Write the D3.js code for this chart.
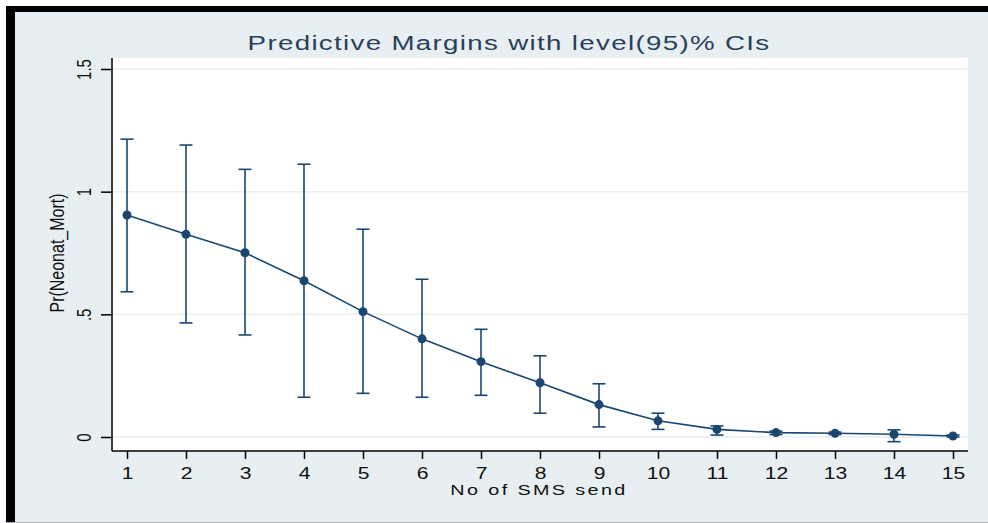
<!DOCTYPE html>
<html>
<head>
<meta charset="utf-8">
<script src="https://cdn.jsdelivr.net/npm/d3@7"></script>
<style>
  html, body { margin: 0; padding: 0; background: #fff; }
  svg { display: block; font-family: "Liberation Sans", Arial, sans-serif; }
</style>
</head>
<body>
<svg width="988" height="523"></svg>
<script>
// data
const smsCount = [1, 2, 3, 4, 5, 6, 7, 8, 9, 10, 11, 12, 13, 14, 15];
const margin = [0.905, 0.826, 0.751, 0.637, 0.511, 0.400, 0.307, 0.221, 0.132, 0.066, 0.031, 0.018, 0.015, 0.011, 0.004];
const ciLow = [0.592, 0.465, 0.416, 0.162, 0.178, 0.162, 0.170, 0.097, 0.041, 0.031, 0.008, 0.010, 0.010, -0.019, 0.000];
const ciHigh = [1.214, 1.190, 1.091, 1.112, 0.847, 0.643, 0.439, 0.331, 0.217, 0.097, 0.045, 0.024, 0.020, 0.029, 0.008];
const yTicks = [0, 0.5, 1, 1.5];
const yTickLabels = ['0', '.5', '1', '1.5'];

const navy = '#1a476f';
const stretch = 1.32; // the source image is widened, so the text is too
const svg = d3.select('svg');

// outer frame: white edge, black bars top/left, blue-grey background
svg.append('rect').attr('width', 988).attr('height', 523).attr('fill', '#fff');
svg.append('rect').attr('x', 6).attr('y', 6).attr('width', 982).attr('height', 516).attr('fill', '#000');
svg.append('rect').attr('x', 15).attr('y', 12).attr('width', 973).attr('height', 510).attr('fill', '#e8eff2');
svg.append('line')
    .attr('x1', 6).attr('x2', 988).attr('y1', 522.5).attr('y2', 522.5)
    .attr('stroke', '#b0b4b8').attr('stroke-width', 1);

const plot = { left: 112, right: 968, top: 58, bottom: 451 };

// plot region
svg.append('rect')
    .attr('x', plot.left).attr('y', plot.top)
    .attr('width', plot.right - plot.left).attr('height', plot.bottom - plot.top)
    .attr('fill', '#fff');

const xScale = d3.scaleLinear().domain([1, 15]).range([127, 953]);
const yScale = d3.scaleLinear().domain([0, 1.5]).range([437, 69]);

// gridlines
svg.append('g')
    .selectAll('line')
    .data(yTicks)
    .enter()
    .append('line')
    .attr('x1', plot.left).attr('x2', plot.right)
    .attr('y1', d => yScale(d)).attr('y2', d => yScale(d))
    .attr('stroke', '#e6eff1')
    .attr('stroke-width', 1.5);

// Y axis
const yAxis = svg.append('g')
    .attr('transform', `translate(${plot.left},0)`)
    .call(d3.axisLeft(yScale).tickValues(yTicks).tickSize(11)
        .tickFormat((d, i) => yTickLabels[i]));
yAxis.select('.domain').remove();
yAxis.selectAll('line').attr('stroke', '#000').attr('stroke-width', 1.5);
yAxis.selectAll('text')
    .attr('transform', `scale(${stretch},1) rotate(-90)`)
    .attr('x', 0)
    .attr('y', -16)
    .attr('dy', 0)
    .style('text-anchor', 'middle')
    .style('font-size', '15px')
    .attr('fill', '#111');

// X axis
const xAxis = svg.append('g')
    .attr('transform', `translate(0,${plot.bottom})`)
    .call(d3.axisBottom(xScale).tickValues(smsCount).tickSize(8).tickFormat(d3.format('d')));
xAxis.select('.domain').remove();
xAxis.selectAll('line').attr('stroke', '#000').attr('stroke-width', 1.5);
xAxis.selectAll('text')
    .attr('y', 28)
    .attr('dy', 0)
    .attr('transform', `scale(${stretch},1)`)
    .style('font-size', '16px')
    .attr('fill', '#111');

// axis lines
svg.append('line')
    .attr('x1', plot.left).attr('x2', plot.left)
    .attr('y1', plot.top).attr('y2', plot.bottom)
    .attr('stroke', '#000').attr('stroke-width', 1.5);
svg.append('line')
    .attr('x1', plot.left).attr('x2', plot.right)
    .attr('y1', plot.bottom).attr('y2', plot.bottom)
    .attr('stroke', '#000').attr('stroke-width', 1.5);

// titles
svg.append('text')
    .attr('transform', `translate(509,50) scale(${stretch},1)`)
    .style('text-anchor', 'middle')
    .style('font-size', '21px')
    .style('letter-spacing', '1px')
    .attr('fill', '#2a3f5c')
    .text('Predictive Margins with level(95)% CIs');

svg.append('text')
    .attr('transform', `translate(539,495) scale(${stretch},1)`)
    .style('text-anchor', 'middle')
    .style('font-size', '15px')
    .style('letter-spacing', '1.8px')
    .attr('fill', '#111')
    .text('No of SMS send');

svg.append('text')
    .attr('transform', `translate(64,253) scale(${stretch},1) rotate(-90)`)
    .style('text-anchor', 'middle')
    .style('font-size', '16px')
    .attr('fill', '#111')
    .text('Pr(Neonat_Mort)');

// confidence intervals
const ci = svg.append('g').attr('stroke', navy).attr('stroke-width', 1.6);
smsCount.forEach(function(d, i) {
    const x = xScale(d);
    ci.append('line')
        .attr('x1', x).attr('x2', x)
        .attr('y1', yScale(ciLow[i])).attr('y2', yScale(ciHigh[i]));
    [ciLow[i], ciHigh[i]].forEach(function(v) {
        ci.append('line')
            .attr('x1', x - 6.5).attr('x2', x + 6.5)
            .attr('y1', yScale(v)).attr('y2', yScale(v));
    });
});

// margins line
const line = d3.line()
    .x((d, i) => xScale(smsCount[i]))
    .y(d => yScale(d));

svg.append('path')
    .datum(margin)
    .attr('d', line)
    .attr('fill', 'none')
    .attr('stroke', navy)
    .attr('stroke-width', 1.6);

svg.append('g')
    .selectAll('circle')
    .data(margin)
    .enter()
    .append('circle')
    .attr('cx', (d, i) => xScale(smsCount[i]))
    .attr('cy', d => yScale(d))
    .attr('r', 4.5)
    .attr('fill', navy);
</script>
</body>
</html>
